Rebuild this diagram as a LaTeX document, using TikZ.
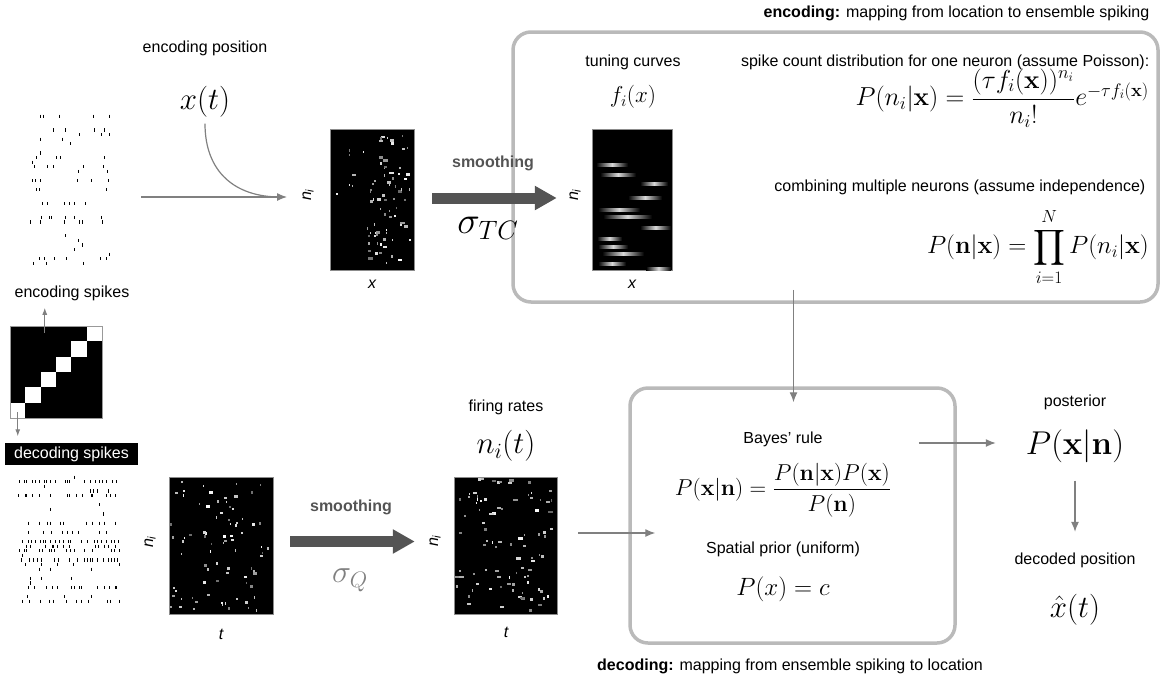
\RequirePackage{fix-cm}
\documentclass[tikz,border=0pt]{standalone}
\usepackage{amsmath}
\usepackage[no-math]{fontspec}
\setmainfont{Liberation Sans}
\usetikzlibrary{arrows.meta, calc, positioning}

% spike raster on white: x0, y0, width, rows, slots, max density
\newcommand{\spikerows}[6]{%
  \foreach \r in {1,...,#4} {
    \pgfmathsetmacro\dens{rnd*rnd*#6}
    \foreach \k in {1,...,#5} {
      \pgfmathtruncatemacro\keep{rnd<\dens}
      \ifnum\keep=1
        \pgfmathsetmacro\xx{#1+(\k-1+rnd)*#3/#5}
        \draw[line width=0.8pt] (\xx,#2+\r*4.6) -- ++(0,3.2);
      \fi
    }
  }
}
% white specks on a black matrix: x0, y0, width, height, count, max dash
\newcommand{\specks}[6]{%
  \foreach \k in {1,...,#5} {
    \pgfmathsetmacro\xx{#1+1+rnd*(#3-5)}
    \pgfmathsetmacro\yy{#2+1+rnd*(#4-5)}
    \pgfmathsetmacro\ww{0.8+random(0,#6)*1.2}
    \pgfmathtruncatemacro\gl{40+rnd*60}
    \fill[white!\gl!black] (\xx,\yy) rectangle ++(\ww,2.4);
  }
}

\tikzset{
  lbl/.style={font=\fontsize{16}{19}\selectfont, inner sep=0.5pt},
  eqn/.style={font=\fontsize{#1}{#1}\selectfont, inner sep=0pt},
  axlbl/.style={font=\fontsize{16}{19}\selectfont\itshape, inner sep=1pt},
  mat/.style={fill=black, draw=black!45, line width=0.5pt, inner sep=0pt},
  flow/.style={-{Latex[length=10pt,width=8pt]}, draw=black!50, line width=1.2pt},
  short/.style={-{Latex[length=7pt,width=5pt]}, draw=black!50, line width=1pt},
  bigarrow/.style={-{Triangle[length=22pt,width=23pt]}, line width=11pt, draw=black!67},
  panel/.style={draw=black!27, line width=3.5pt, rounded corners=18pt, inner sep=0pt},
  smooth/.style={font=\fontsize{16}{19}\selectfont\bfseries, text=black!67, inner sep=1pt}
}

\begin{document}
\begin{tikzpicture}[x=1pt, y=-1pt]
    \useasboundingbox (0,0) rectangle (1161,678);
    \pgfmathsetseed{11}

    % 1. Panels
    \node[panel, minimum width=645, minimum height=270] (encbox) at (835.5,167) {};
    \node[panel, minimum width=325, minimum height=255] (decbox) at (792.5,515.5) {};
    \node[lbl, anchor=east] (enctitle) at (1150,13) {\textbf{encoding:} mapping from location to ensemble spiking};
    \node[lbl] (dectitle) at (790,666) {\textbf{decoding:} mapping from ensemble spiking to location};

    % 2. Encoding row
    \node[lbl] (encpos) at (205,48) {encoding position};
    \node[eqn=31] (xt) at (205,102) {$x(t)$};
    \spikerows{30}{110}{80}{33}{20}{0.35}
    \node[lbl] (encspk) at (72,293) {encoding spikes};
    \node[mat, minimum width=84, minimum height=141] (encmat) at (372,199.5) {};
    \specks{366}{131}{47}{137}{60}{3}
    \specks{331}{131}{82}{137}{18}{2}
    \node[axlbl, rotate=90] (encni) at (308,195) {n\textsubscript{i}};
    \node[axlbl] (encx) at (372,284) {x};
    \node[smooth] (encsm) at (493,163) {smoothing};
    \node[eqn=38] (sigtc) at (488,228) {$\sigma_{TC}$};

    % 3. Tuning curves
    \node[lbl] (tclbl) at (633,62) {tuning curves};
    \node[eqn=23] (fix) at (633,97) {$f_i(x)$};
    \node[mat, minimum width=80, minimum height=141] (tcmat) at (632,199.5) {};
    \foreach \y/\a/\b in {163/596/628, 173/600/636, 182/640/668, 196/628/662, 208/598/640,
                         215/603/652, 226/640/671, 237/597/622, 245/598/628, 252/602/644,
                         262/598/626, 267/646/671}
        \shade[left color=black, right color=black, middle color=white!85!black]
            (\a,\y) rectangle (\b,\y+3);
    \node[axlbl, rotate=90] (tcni) at (575,195) {n\textsubscript{i}};
    \node[axlbl] (tcx) at (632,284) {x};
    \node[lbl, anchor=east] (poislbl) at (1150,62) {spike count distribution for one neuron (assume Poisson):};
    \node[eqn=26, anchor=east] (pois) at (1149,98)
        {$P(n_i|\mathbf{x}) = \dfrac{(\tau f_i(\mathbf{x}))^{n_i}}{n_i!}e^{-\tau f_i(\mathbf{x})}$};
    \node[lbl, anchor=east] (indlbl) at (1146,187) {combining multiple neurons (assume independence)};
    \node[eqn=25, anchor=east] (prodeq) at (1149,247)
        {$P(\mathbf{n}|\mathbf{x}) = \displaystyle\prod_{i=1}^{N} P(n_i|\mathbf{x})$};

    % 4. Position-to-cell mapping
    \node[mat, draw=black!40, minimum width=92, minimum height=92] (diag) at (56,372) {};
    \foreach \i in {0,...,5}
        \fill[white] (10+\i*15.33,418-\i*15.33) rectangle ++(15.33,-15.33);
    \draw[black!40, line width=0.5pt] (diag.north west) rectangle (diag.south east);
    \node[lbl, fill=black, text=white, minimum width=133, minimum height=22] (decspk) at (71.5,454) {decoding spikes};

    % 5. Decoding row
    \spikerows{18}{471}{102}{30}{26}{1.0}
    \node[mat, minimum width=104, minimum height=137] (decmat) at (221,545.5) {};
    \specks{169}{477}{104}{137}{80}{2}
    \node[axlbl, rotate=90] (decni) at (150,542) {n\textsubscript{i}};
    \node[axlbl] (dect) at (221,634) {t};
    \node[smooth] (decsm) at (351,507) {smoothing};
    \node[eqn=32, text=black!50] (sigq) at (350,580) {$\sigma_Q$};
    \node[lbl] (ratelbl) at (506,407) {firing rates};
    \node[eqn=31] (nit) at (506,446) {$n_i(t)$};
    \node[mat, minimum width=103, minimum height=137] (ratemat) at (505.5,545.5) {};
    \specks{454}{477}{103}{137}{90}{3}
    \node[axlbl, rotate=90] (rateni) at (435,541) {n\textsubscript{i}};
    \node[axlbl] (ratet) at (506,632) {t};

    % 6. Bayes box and output
    \node[lbl] (bayeslbl) at (783,439) {Bayes’ rule};
    \node[eqn=23] (bayes) at (783,490)
        {$P(\mathbf{x}|\mathbf{n}) = \dfrac{P(\mathbf{n}|\mathbf{x})P(\mathbf{x})}{P(\mathbf{n})}$};
    \node[lbl] (priorlbl) at (783,549) {Spatial prior (uniform)};
    \node[eqn=25] (prior) at (783,589) {$P(x) = c$};
    \node[lbl] (postlbl) at (1075,402) {posterior};
    \node[eqn=33] (post) at (1075,446) {$P(\mathbf{x}|\mathbf{n})$};
    \node[lbl] (decpos) at (1075,560) {decoded position};
    \node[eqn=31] (xhat) at (1075,610) {$\hat{x}(t)$};

    % 7. Connectors
    \coordinate (encstart) at (141,197);
    \coordinate (encend) at (287,197);
    \draw[flow] (encstart) -- (encend);
    \draw[draw=black!50, line width=1.2pt] ([yshift=-6pt]xt.south) .. controls (205,172) and (235,197) .. (280,197);
    \draw[bigarrow] ([xshift=18pt,yshift=1.5pt]encmat.east) -- ([xshift=-35pt,yshift=1.5pt]tcmat.west);
    \draw[bigarrow] ([xshift=17pt,yshift=4pt]decmat.east) -- ([xshift=-39pt,yshift=4pt]ratemat.west);
    \draw[short] ($(diag.north west)+(35,7)$) -- ($(diag.north west)+(35,-18)$);
    \draw[short] ($(diag.south west)+(8,-6)$) -- ($(diag.south west)+(8,18)$);
    \draw[flow] ($(encbox.south)+(-42,-14)$) -- ($(decbox.north)+(1,16)$);
    \draw[flow] ($(ratemat.east)+(21,-12.5)$) -- ($(decbox.west |- ratemat.east)+(27,-12.5)$);
    \draw[flow] ($(decbox.east |- post)+(-38,-3)$) -- ($(post.west)+(-30,-3)$);
    \draw[flow] ($(post.south)+(0,18)$) -- ($(decpos.north)+(0,-20)$);
\end{tikzpicture}
\end{document}
